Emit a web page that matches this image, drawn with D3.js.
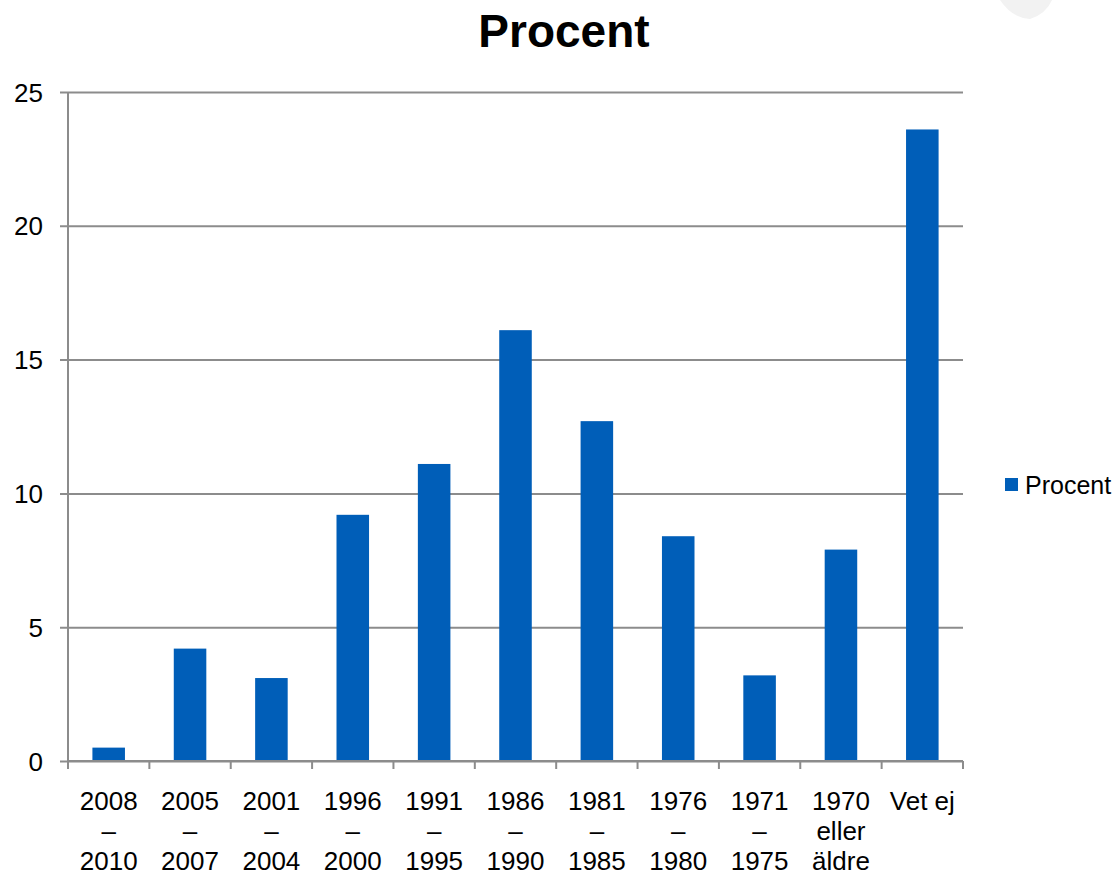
<!DOCTYPE html>
<html>
<head>
<meta charset="utf-8">
<script src="https://cdn.jsdelivr.net/npm/d3@7"></script>
<style>
  body { margin: 0; background: #fff; }
  text { font-family: "Liberation Sans", Arial, sans-serif; fill: #000; }
</style>
</head>
<body>
<svg id="main-svg" width="1120" height="873"></svg>
<script>
// data
var categories = [
  ["2008", "\u2013", "2010"],
  ["2005", "\u2013", "2007"],
  ["2001", "\u2013", "2004"],
  ["1996", "\u2013", "2000"],
  ["1991", "\u2013", "1995"],
  ["1986", "\u2013", "1990"],
  ["1981", "\u2013", "1985"],
  ["1976", "\u2013", "1980"],
  ["1971", "\u2013", "1975"],
  ["1970", "eller", "\u00e4ldre"],
  ["Vet ej"]
];
var values = [0.5, 4.2, 3.1, 9.2, 11.1, 16.1, 12.7, 8.4, 3.2, 7.9, 23.6];
var yTicks = [0, 5, 10, 15, 20, 25];
var seriesName = "Procent";

var svg = d3.select("#main-svg");
var barColor = "#005EB8";
var gridColor = "#8c8c8c";

var plotLeft = 68, plotRight = 963, plotTop = 92, plotBottom = 761;

var x = d3.scaleBand()
    .domain(d3.range(categories.length))
    .range([plotLeft, plotRight])
    .paddingInner(0.6)
    .paddingOuter(0.3);

var y = d3.scaleLinear()
    .domain([0, 25])
    .range([plotBottom, plotTop]);

// faint shape at the top right corner
svg.append("path")
    .attr("d", "M1000,0 L1052,0 Q1046,14 1030,19 Q1012,18 1000,0 Z")
    .style("fill", "#f2f2f2");

// gridlines + y axis
var yAxis = svg.append("g")
    .attr("transform", "translate(" + plotLeft + ",0)")
    .call(d3.axisLeft(y).tickValues(yTicks).tickSize(8).tickPadding(17).tickFormat(d3.format("d")));
yAxis.select(".domain").remove();
yAxis.selectAll(".tick line")
    .attr("x1", -8)
    .attr("x2", plotRight - plotLeft)
    .style("stroke", gridColor).style("stroke-width", 2);
yAxis.selectAll(".tick text").style("font-size", "26px").attr("dy", "0.35em");

svg.append("line")
    .attr("x1", plotLeft).attr("x2", plotLeft)
    .attr("y1", plotTop).attr("y2", plotBottom)
    .style("stroke", gridColor).style("stroke-width", 2);

// bars
svg.append("g")
  .selectAll("rect")
  .data(values)
  .enter().append("rect")
    .attr("x", function(d, i) { return x(i); })
    .attr("width", x.bandwidth())
    .attr("y", function(d) { return y(d); })
    .attr("height", function(d) { return y(0) - y(d); })
    .style("fill", barColor);

// x axis with ticks at band boundaries
var bounds = d3.range(categories.length + 1).map(function(i) {
  return plotLeft + i * (plotRight - plotLeft) / categories.length;
});
svg.append("line")
    .attr("x1", plotLeft).attr("x2", plotRight)
    .attr("y1", plotBottom).attr("y2", plotBottom)
    .style("stroke", gridColor).style("stroke-width", 2);
svg.append("g")
  .selectAll("line")
  .data(bounds)
  .enter().append("line")
    .attr("x1", function(d) { return d; }).attr("x2", function(d) { return d; })
    .attr("y1", plotBottom).attr("y2", plotBottom + 8)
    .style("stroke", gridColor).style("stroke-width", 2);

var labels = svg.append("g")
  .selectAll("text")
  .data(categories)
  .enter().append("text")
    .attr("text-anchor", "middle")
    .style("font-size", "26px")
    .attr("transform", function(d, i) { return "translate(" + (x(i) + x.bandwidth() / 2) + ",810)"; });
labels.selectAll("tspan")
  .data(function(d) { return d; })
  .enter().append("tspan")
    .attr("x", 0)
    .attr("y", function(d, j) { return j * 30; })
    .text(function(d) { return d; });

// title
svg.append("text")
    .attr("x", 564).attr("y", 47)
    .attr("text-anchor", "middle")
    .style("font-size", "46px")
    .style("font-weight", "bold")
    .text(seriesName);

// legend
var legend = svg.append("g").attr("transform", "translate(1005,478)");
legend.append("rect").attr("width", 13).attr("height", 13).style("fill", barColor);
legend.append("text").attr("x", 20).attr("y", 15.5).style("font-size", "25px").text(seriesName);
</script>
</body>
</html>
